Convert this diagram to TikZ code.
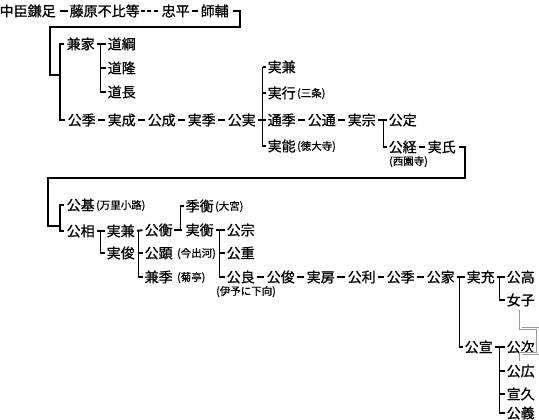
\documentclass[tikz,border=0pt]{standalone}
\usepackage{fontspec}
\newfontfamily\jp[FakeBold=0.8]{Noto Sans CJK JP}
\usetikzlibrary{calc}
\begin{document}
\begin{tikzpicture}[x=1pt,y=-1pt,
  nm/.style={anchor=west,inner sep=0pt,font=\jp\fontsize{14}{14}\selectfont,text height=11.6pt,text depth=1pt},
  sm/.style={anchor=west,inner sep=0pt,font=\jp\fontsize{10.5}{10.5}\selectfont,text height=8.7pt,text depth=0.8pt},
  br/.style={line width=1.9pt},
  lnk/.style={line width=1.9pt,shorten <=2pt,shorten >=3pt},
  tick/.style={line width=1.9pt,shorten >=2pt},
  dotl/.style={line width=1.6pt,dash pattern=on 4pt off 2.5pt,shorten <=1pt,shorten >=2pt},
  dbl/.style={draw=gray!80,line width=0.9pt,double=white,double distance=1.6pt}]
\path[use as bounding box,fill=white] (0,0) rectangle (539,420);
% row 1
\node[nm] (n1) at (-0.5,11) {中臣鎌足};
\node[nm] (n2) at (69.5,11) {藤原不比等};
\node[nm] (n3) at (161.5,11) {忠平};
\node[nm] (n4) at (200.5,11) {師輔};
\draw[br,shorten <=4pt,shorten >=2pt] (n1.east) -- (n2.west);
\draw[dotl] (n2.east) -- (n3.west);
\draw[br,shorten <=2pt,shorten >=3pt] (n3.east) -- (n4.west);
% group 1
\node[nm] (kaneie) at (66.5,44) {兼家};
\node[nm] (michitsuna) at (107.5,44) {道綱};
\node[nm] (michitaka) at (107.5,68) {道隆};
\node[nm] (michinaga) at (107.5,92) {道長};
\node[nm] (kinsue) at (67.5,120) {公季};
\node[nm] (sanenari) at (107.5,120) {実成};
\node[nm] (kinnari) at (147.5,120) {公成};
\node[nm] (sanesue) at (187.5,120) {実季};
\node[nm] (kinzane) at (227.5,120) {公実};
\node[nm] (sanekaneA) at (267.5,67) {実兼};
\node[nm] (saneyuki) at (267.5,93) {実行};
\node[sm] (sanjo) at (297,93) {(三条)};
\node[nm] (michisue) at (267.5,120) {通季};
\node[nm] (saneyoshi) at (267.5,146) {実能};
\node[sm] (tokudaiji) at (297,146) {(徳大寺)};
\node[nm] (kinmichi) at (307.5,120) {公通};
\node[nm] (sanemune) at (347.5,120) {実宗};
\node[nm] (kinsada) at (388.5,120) {公定};
\node[nm] (kintsune) at (388.5,147) {公経};
\node[nm] (saneuji) at (427.5,147) {実氏};
\node[sm] (saionji) at (389,161) {(西園寺)};
\coordinate (r1) at (240,27);
\coordinate (j1) at (50,75);
\draw[br] ([xshift=4pt]n4.east) -| (r1) -| (j1) -- ++(10,0) coordinate (k1);
\draw[br] ([xshift=-3pt]kaneie.west) -| (k1) |- ([xshift=-3pt]kinsue.west);
\draw[br,shorten <=2pt,shorten >=2pt] (kaneie.east) -- (michitsuna.west);
\draw[tick] ([xshift=-7pt]michitsuna.west) |- (michinaga.west);
\draw[tick] ([xshift=-7pt]michitaka.west) -- (michitaka.west);
\draw[lnk] (kinsue.east) -- (sanenari.west);
\draw[lnk] (sanenari.east) -- (kinnari.west);
\draw[lnk] (kinnari.east) -- (sanesue.west);
\draw[lnk] (sanesue.east) -- (kinzane.west);
\draw[tick,shorten <=2pt] (kinzane.east) -- (michisue.west);
\draw[tick] ([xshift=-5pt]sanekaneA.west) -- (sanekaneA.west);
\draw[tick] ([xshift=-5pt]sanekaneA.west) |- (saneyoshi.west);
\draw[tick] ([xshift=-5pt]saneyuki.west) -- (saneyuki.west);
\draw[lnk] (michisue.east) -- (kinmichi.west);
\draw[lnk] (kinmichi.east) -- (sanemune.west);
\draw[tick,shorten <=2pt] (sanemune.east) -- (kinsada.west);
\draw[tick] ([xshift=-5pt]kinsada.west) |- (kintsune.west);
\draw[lnk] (kintsune.east) -- (saneuji.west);
% group 2
\node[nm] (kinmoto) at (66.5,205) {公基};
\node[sm] (madenokoji) at (96,205) {(万里小路)};
\node[nm] (kinsuke) at (66.5,231) {公相};
\node[nm] (sanekaneB) at (106.5,231) {実兼};
\node[nm] (sanetoshi) at (106.5,253) {実俊};
\node[nm] (kinhira) at (144.5,230) {公衡};
\node[nm] (kinaki) at (144.5,253) {公顕};
\node[sm] (imadegawa) at (177,253) {(今出河)};
\node[nm] (kanesue) at (144.5,277) {兼季};
\node[sm] (kikutei) at (177,277) {(菊亭)};
\node[nm] (suehira) at (185.5,206) {季衡};
\node[sm] (omiya) at (215,206) {(大宮)};
\node[nm] (sanehira) at (185.5,230) {実衡};
\node[nm] (kinmune) at (226.5,230) {公宗};
\node[nm] (kinshige) at (226.5,253) {公重};
\node[nm] (kinyoshi) at (226.5,277) {公良};
\node[sm] (iyo) at (216,291) {(伊予に下向)};
\node[nm] (kintoshi) at (266.5,277) {公俊};
\node[nm] (sanefusa) at (306.5,277) {実房};
\node[nm] (kintoshiB) at (347.5,277) {公利};
\node[nm] (kinsueB) at (386.5,277) {公季};
\node[nm] (kinie) at (426.5,277) {公家};
\node[nm] (sanemitsu) at (466.5,277) {実充};
\node[nm] (kintaka) at (506.5,277) {公高};
\node[nm] (jo) at (506.5,300) {女子};
\node[nm] (kinnobu) at (464.5,347) {公宣};
\node[nm] (kintsugu) at (506.5,347) {公次};
\node[nm] (kinhiro) at (506.5,371) {公広};
\node[nm] (nobuhisa) at (506.5,394) {宣久};
\node[nm] (kinyoshiB) at (506.5,413) {公義};
\coordinate (r2) at (465,178);
\coordinate (j2) at (48,226);
\draw[br] ([xshift=3pt]saneuji.east) -| (r2) -| (j2) -- ++(12,0) coordinate (k2);
\draw[br] ([xshift=-3pt]kinmoto.west) -| (k2) |- ([xshift=-3pt]kinsuke.west);
\draw[tick,shorten <=2pt] (kinsuke.east) -- (sanekaneB.west);
\draw[tick] ([xshift=-6pt]sanekaneB.west) |- (sanetoshi.west);
\draw[tick,shorten <=2pt] (sanekaneB.east) -- (kinhira.west);
\draw[tick] ([xshift=-6pt]kinhira.west) |- (kanesue.west);
\draw[tick] ([xshift=-6pt]kinaki.west) -- (kinaki.west);
\draw[br,shorten <=1pt] (kinhira.east) -- ([xshift=-4pt]sanehira.west);
\draw[tick] ([xshift=-5pt]sanehira.west) |- (suehira.west);
\draw[tick,shorten <=2pt] (sanehira.east) -- (kinmune.west);
\draw[tick] ([xshift=-7pt]kinmune.west) |- (kinyoshi.west);
\draw[tick] ([xshift=-7pt]kinshige.west) -- (kinshige.west);
\draw[lnk] (kinyoshi.east) -- (kintoshi.west);
\draw[lnk] (kintoshi.east) -- (sanefusa.west);
\draw[lnk] (sanefusa.east) -- (kintoshiB.west);
\draw[lnk] (kintoshiB.east) -- (kinsueB.west);
\draw[lnk] (kinsueB.east) -- (kinie.west);
\draw[tick,shorten <=2pt] (kinie.east) -- (sanemitsu.west);
\draw[tick] ([xshift=-7pt]sanemitsu.west) |- (kinnobu.west);
\draw[tick,shorten <=2pt] (sanemitsu.east) -- (kintaka.west);
\draw[tick] ([xshift=-7pt]kintaka.west) |- (jo.west);
\draw[tick,shorten <=2pt] (kinnobu.east) -- (kintsugu.west);
\draw[tick] ([xshift=-7pt]kintsugu.west) |- (kinyoshiB.west);
\draw[tick] ([xshift=-7pt]kinhiro.west) -- (kinhiro.west);
\draw[tick] ([xshift=-7pt]nobuhisa.west) -- (nobuhisa.west);
\draw[dbl] ([yshift=-3pt]jo.south) -- ++(0,19) -- ++(17,0) -- ++(0,25) -- ++(-17,0) -- ++(0,7) coordinate (adopt);
\end{tikzpicture}
\end{document}
